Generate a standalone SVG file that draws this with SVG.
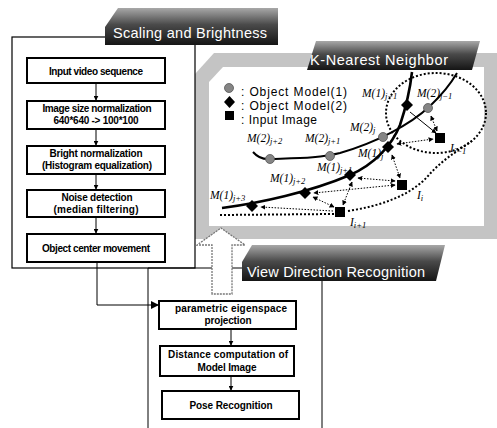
<svg xmlns="http://www.w3.org/2000/svg" width="497" height="428" viewBox="0 0 497 428">
<defs>
<style>
.box{fill:#fff;stroke:#000;stroke-width:2}
.bt{font-family:"Liberation Sans",Arial,sans-serif;font-weight:bold;font-size:10px;fill:#000;text-anchor:middle}
.tab{font-family:"Liberation Sans",Arial,sans-serif;font-size:14.5px;fill:#fff}
.leg{font-family:"Liberation Sans",Arial,sans-serif;font-size:12px;fill:#000}
.m{font-family:"Liberation Serif","Times New Roman",serif;font-style:italic;font-size:11.5px;fill:#000}
.sub{font-size:8.5px}
.ln{fill:none;stroke:#000;stroke-width:1}
.dot{fill:none;stroke:#000;stroke-width:1;stroke-dasharray:1.5 1.5}
.big{fill:none;stroke:#000;stroke-width:2;stroke-dasharray:2 2}
.mc{fill:#858585;stroke:#555;stroke-width:0.8}
.curve{fill:none;stroke:#000}
</style>
<linearGradient id="tg" x1="0" y1="0" x2="0" y2="1">
<stop offset="0" stop-color="#a8a8a8"/>
<stop offset="0.45" stop-color="#4a4a4a"/>
<stop offset="1" stop-color="#151515"/>
</linearGradient>
<marker id="a" viewBox="0 0 8 8" refX="7" refY="4" markerWidth="5" markerHeight="5" orient="auto-start-reverse" markerUnits="userSpaceOnUse">
<path d="M0,0 L8,4 L0,8 Z" fill="#000"/>
</marker>
<marker id="ab" viewBox="0 0 8 8" refX="7" refY="4" markerWidth="8" markerHeight="8" orient="auto" markerUnits="userSpaceOnUse">
<path d="M0,0 L8,4 L0,8 Z" fill="#000"/>
</marker>
</defs>

<rect width="497" height="428" fill="#fff"/>

<!-- K-Nearest panel frame -->
<g id="knn-panel">
<path d="M195,74 L214,53 L497,53 L497,239 L195,239 Z" fill="#c4c4c4"/>
<path d="M209,82 L223,67 L484,67 L484,226 L209,226 Z" fill="#fff"/>
<path d="M307,70 L316,41 L480,41 L472,70 Z" fill="url(#tg)"/>
<text class="tab" x="310" y="65" textLength="138">K-Nearest Neighbor</text>
</g>

<!-- Left panel -->
<g id="left-panel">
<rect x="12" y="37" width="183" height="231" fill="#fff" stroke="#000" stroke-width="1.2"/>
<path d="M105,45 L105,27 L118,8 L278,8 L278,45 Z" fill="url(#tg)"/>
<text class="tab" x="113" y="38" textLength="154">Scaling and Brightness</text>
</g>

<!-- Bottom panel -->
<g id="bottom-panel">
<path d="M148,428 L148,268 L242,268" class="ln" stroke-width="1.2"/>
<path d="M322,281 L322,428" class="ln" stroke-width="1.2"/>
<path d="M242,281 L242,262 L252,245 L445,245 L436,281 Z" fill="url(#tg)"/>
<text class="tab" x="247" y="277" textLength="178">View Direction Recognition</text>
</g>

<!-- hollow arrow -->
<g id="up-arrow">
<polygon points="212,294 212,245 197,245 221,228 245,245 232,245 232,294" fill="#fff" stroke="#777" stroke-width="1.3" stroke-dasharray="2 1"/>
</g>

<!-- Left column nodes -->
<g id="n-input"><rect class="box" x="27" y="58" width="138" height="25"/><text class="bt" x="96" y="74.5" textLength="94">Input video sequence</text></g>
<g id="n-size"><rect class="box" x="27" y="101" width="138" height="28"/><text class="bt" x="97" y="112" textLength="109">Image size normalization</text><text class="bt" x="96" y="124" textLength="85">640*640 -&gt; 100*100</text></g>
<g id="n-bright"><rect class="box" x="27" y="146" width="138" height="28"/><text class="bt" x="96" y="157" textLength="93">Bright normalization</text><text class="bt" x="97" y="169" textLength="110">(Histogram equalization)</text></g>
<g id="n-noise"><rect class="box" x="27" y="190" width="138" height="27"/><text class="bt" x="97" y="201" textLength="71">Noise detection</text><text class="bt" x="96" y="213" textLength="85">(median filtering)</text></g>
<g id="n-object"><rect class="box" x="27" y="234" width="138" height="28"/><text class="bt" x="96" y="251.5" textLength="108">Object center movement</text></g>

<!-- Bottom column nodes -->
<g id="n-param"><rect class="box" x="159" y="301" width="137" height="28"/><text class="bt" x="231" y="312" textLength="112">parametric eigenspace</text><text class="bt" x="228" y="324" textLength="47">projection</text></g>
<g id="n-dist"><rect class="box" x="160" y="346" width="134" height="30"/><text class="bt" x="228" y="358" textLength="120">Distance computation of</text><text class="bt" x="227" y="371" textLength="59">Model Image</text></g>
<g id="n-pose"><rect class="box" x="162" y="391" width="137" height="28"/><text class="bt" x="231" y="409" textLength="83">Pose Recognition</text></g>

<!-- connectors -->
<g id="connectors">
<line class="ln" x1="96" y1="83" x2="96" y2="100" marker-end="url(#a)"/>
<line class="ln" x1="96" y1="129" x2="96" y2="145" marker-end="url(#a)"/>
<line class="ln" x1="96" y1="174" x2="96" y2="189" marker-end="url(#a)"/>
<line class="ln" x1="96" y1="217" x2="96" y2="233" marker-end="url(#a)"/>
<path class="ln" stroke-width="2" d="M97,262 V305 H158" marker-end="url(#ab)"/>
<line class="ln" x1="231" y1="329" x2="231" y2="345" marker-end="url(#a)"/>
<line class="ln" x1="231" y1="376" x2="231" y2="390" marker-end="url(#a)"/>
</g>

<!-- KNN diagram -->
<g id="knn-legend">
<circle class="mc" cx="229" cy="88" r="4.5"/>
<path d="M229.5,96 L235,102 L229.5,108 L224,102 Z" fill="#000"/>
<rect x="225" y="111" width="9" height="9" fill="#000"/>
<text class="leg" x="241" y="96" textLength="106">: Object Model(1)</text>
<text class="leg" x="241" y="110" textLength="106">: Object Model(2)</text>
<text class="leg" x="241" y="124" textLength="76">: Input Image</text>
</g>

<g id="knn-curves">
<path class="big" d="M220,215 L334,214"/>
<ellipse class="big" cx="436" cy="113" rx="50" ry="40"/>
<path class="big" d="M348,211 C380,206 410,196 428,176 C440,162 455,152 472,141"/>
<path class="curve" stroke-width="2.6" d="M222,208 C260,203 310,192 350,175 C375,164 392,145 400,125 C405,110 410,90 412,72"/>
<path class="curve" stroke-width="2" d="M253,152 Q260,160 270,159 C300,158 320,158 340,153 C375,143 410,125 430,106 Q447,90 457,73"/>
</g>

<g id="knn-arrows">
<line class="dot" x1="333" y1="211" x2="261" y2="207" marker-end="url(#a)"/>
<line class="dot" x1="334" y1="207" x2="313" y2="197" marker-start="url(#a)" marker-end="url(#a)"/>
<line class="dot" x1="395" y1="185" x2="314" y2="193" marker-start="url(#a)" marker-end="url(#a)"/>
<line class="dot" x1="352" y1="182" x2="343" y2="205" marker-start="url(#a)" marker-end="url(#a)"/>
<line class="dot" x1="358" y1="178" x2="395" y2="181" marker-start="url(#a)" marker-end="url(#a)"/>
<line class="dot" x1="392" y1="155" x2="400" y2="178" marker-start="url(#a)" marker-end="url(#a)"/>
<line class="dot" x1="397" y1="144" x2="433" y2="139" marker-start="url(#a)" marker-end="url(#a)"/>
<line class="ln" x1="410" y1="112" x2="436" y2="133" marker-end="url(#a)"/>
<line class="dot" x1="431" y1="116" x2="437" y2="131" marker-start="url(#a)" marker-end="url(#a)"/>
</g>

<g id="knn-points">
<circle class="mc" cx="270" cy="159" r="4.5"/>
<circle class="mc" cx="330" cy="156" r="4.5"/>
<circle class="mc" cx="383" cy="137" r="4.5"/>
<circle class="mc" cx="428" cy="108" r="4.5"/>
<path d="M252,200 L258,206 L252,212 L246,206 Z" fill="#000"/>
<path d="M305,187 L311,193 L305,199 L299,193 Z" fill="#000"/>
<path d="M350,169 L356,175 L350,181 L344,175 Z" fill="#000"/>
<path d="M388,141 L394,147 L388,153 L382,147 Z" fill="#000"/>
<path d="M407,99 L413,105 L407,111 L401,105 Z" fill="#000"/>
<rect x="435" y="133" width="10" height="10" fill="#000"/>
<rect x="397" y="180" width="10" height="10" fill="#000"/>
<rect x="335" y="207" width="10" height="10" fill="#000"/>
</g>

<g id="knn-labels">
<text class="m" x="362" y="97">M(1)<tspan class="sub" dy="2">j−1</tspan></text>
<text class="m" x="417" y="97">M(2)<tspan class="sub" dy="2">j−1</tspan></text>
<text class="m" x="350" y="131">M(2)<tspan class="sub" dy="2">j</tspan></text>
<text class="m" x="358" y="157">M(1)<tspan class="sub" dy="2">j</tspan></text>
<text class="m" x="247" y="142">M(2)<tspan class="sub" dy="2">j+2</tspan></text>
<text class="m" x="305" y="142">M(2)<tspan class="sub" dy="2">j+1</tspan></text>
<text class="m" x="317" y="171">M(1)<tspan class="sub" dy="2">j+1</tspan></text>
<text class="m" x="270" y="182">M(1)<tspan class="sub" dy="2">j+2</tspan></text>
<text class="m" x="210" y="199">M(1)<tspan class="sub" dy="2">j+3</tspan></text>
<text class="m" x="450" y="152">I<tspan class="sub" dy="2">i−1</tspan></text>
<text class="m" x="417" y="199">I<tspan class="sub" dy="2">i</tspan></text>
<text class="m" x="350" y="226">I<tspan class="sub" dy="2">i+1</tspan></text>
</g>
</svg>
